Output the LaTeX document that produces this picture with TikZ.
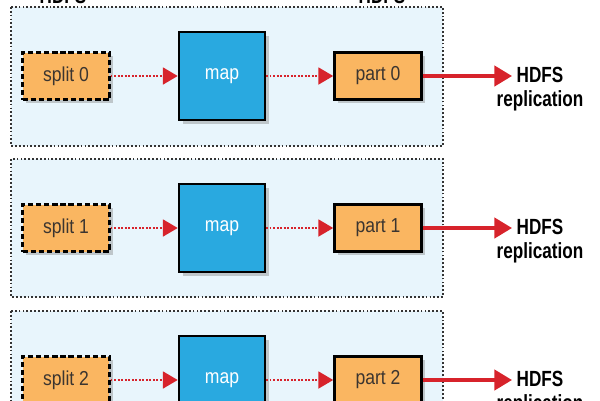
\documentclass[tikz,border=0pt]{standalone}
\usepackage{fontspec}
\newfontfamily\boxfont[FakeStretch=0.87]{Liberation Sans}
\newfontfamily\labfont[FakeStretch=0.78]{Liberation Sans}
\usepackage{xcolor}
\usetikzlibrary{arrows.meta}
\usetikzlibrary{positioning}
\usetikzlibrary{shadows}

\definecolor{panelblue}{HTML}{E8F5FC}
\definecolor{splitorange}{HTML}{FAB661}
\definecolor{mapblue}{HTML}{29A9E0}
\definecolor{arrowred}{HTML}{D7232B}
\definecolor{boxtext}{HTML}{3B3530}

\begin{document}
\begin{tikzpicture}[x=0.02cm, y=-0.02cm,
  panel/.style={draw=black!80, line width=0.7pt, dash pattern=on 1pt off 1.2pt, fill=panelblue},
  box/.style={minimum width=1.74cm, minimum height=0.94cm, inner sep=0pt, fill=splitorange,
    line width=1.4pt, font=\boxfont\fontsize{11.5}{13}\selectfont, text=boxtext,
    drop shadow={shadow xshift=2pt, shadow yshift=-2pt, opacity=0.4}},
  splitbox/.style={box, draw, dash pattern=on 3pt off 1.6pt},
  partbox/.style={box, draw},
  mapbox/.style={box, draw, fill=mapblue, text=white, minimum width=1.72cm, minimum height=1.76cm},
  dotarrow/.style={arrowred, line width=1.6pt, dash pattern=on 1pt off 1pt, -{Triangle[length=8.5pt, width=9.5pt]}},
  outarrow/.style={arrowred, line width=2pt, -{Triangle[length=10pt, width=11.5pt]}},
  hdfs/.style={align=center, font=\labfont\bfseries\fontsize{12.5}{13.6}\selectfont}
]

% Rahmen
\useasboundingbox (0,0) rectangle (600,400);
\clip (0,0) rectangle (600,400);

% HDFS oben (abgeschnitten)
\node[hdfs, anchor=base] (in) at (63,3) {HDFS};
\node[hdfs, anchor=base] (out) at (382,3) {HDFS};

% Block 0
\draw[panel] (11,7) rectangle (443,146);
\node[splitbox] (split0) at (66,76) {split 0};
\node[mapbox] (map0) at (222,76) {map};
\node[partbox] (part0) at (378,76) {part 0};
\coordinate (out0) at (512,76);
\node[hdfs] (rep0) at (540,89) {HDFS\\replication};
\draw[dotarrow] (split0) -- (map0);
\draw[dotarrow] (map0) -- (part0);
\draw[outarrow] (part0) -- (out0);

% Block 1
\draw[panel] (11,159) rectangle (443,297);
\node[splitbox] (split1) at (66,228) {split 1};
\node[mapbox] (map1) at (222,228) {map};
\node[partbox] (part1) at (378,228) {part 1};
\coordinate (out1) at (512,228);
\node[hdfs] (rep1) at (540,241) {HDFS\\replication};
\draw[dotarrow] (split1) -- (map1);
\draw[dotarrow] (map1) -- (part1);
\draw[outarrow] (part1) -- (out1);

% Block 2
\draw[panel] (11,311) rectangle (443,450);
\node[splitbox] (split2) at (66,380) {split 2};
\node[mapbox] (map2) at (222,380) {map};
\node[partbox] (part2) at (378,380) {part 2};
\coordinate (out2) at (512,380);
\node[hdfs] (rep2) at (540,393) {HDFS\\replication};
\draw[dotarrow] (split2) -- (map2);
\draw[dotarrow] (map2) -- (part2);
\draw[outarrow] (part2) -- (out2);

\end{tikzpicture}
\end{document}
